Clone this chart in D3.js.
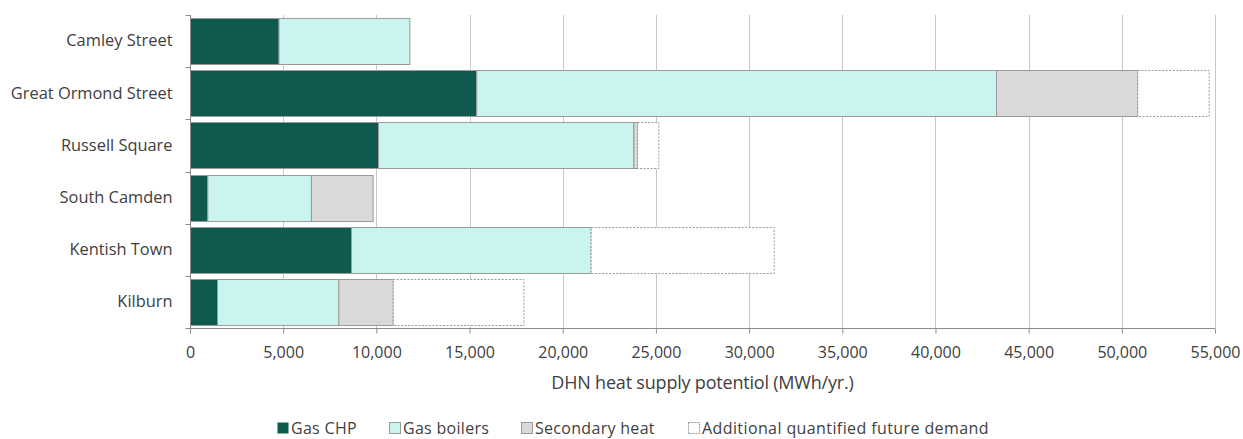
<!DOCTYPE html>
<html>
<head>
<meta charset="utf-8">
<script src="https://cdn.jsdelivr.net/npm/d3@7"></script>
<style>
  html, body { margin: 0; padding: 0; background: #fff; }
  svg text { font-family: "Open Sans", "Noto Sans", sans-serif; fill: #404040; }
</style>
</head>
<body>
<svg id="chart" width="1243" height="439"></svg>
<script>
const categories = ["Camley Street", "Great Ormond Street", "Russell Square", "South Camden", "Kentish Town", "Kilburn"];
const seriesNames = ["Gas CHP", "Gas boilers", "Secondary heat", "Additional quantified future demand"];
const gasCHP       = [4750, 15360, 10090,  930, 8640, 1450];
const gasBoilers   = [7020, 27890, 13700, 5560, 12860, 6510];
const secondary    = [   0,  7580,   200, 3310,     0, 2920];
const futureDemand = [   0,  3830,  1140,    0,  9820, 7010];
const xTicks = [0, 5000, 10000, 15000, 20000, 25000, 30000, 35000, 40000, 45000, 50000, 55000];
const axisTitle = "DHN heat supply potentiol (MWh/yr.)";

const colors = ["#0f5a4f", "#c9f4f0", "#d9d9d9", "#ffffff"];
const seriesData = [gasCHP, gasBoilers, secondary, futureDemand];

const svg = d3.select("#chart");
const mLeft = 190, mRight = 1215, mTop = 15, mBottom = 328;

const x = d3.scaleLinear().domain([0, 55000]).range([mLeft, mRight]);
const y = d3.scaleBand().domain(categories).range([mTop, mBottom]).paddingInner(0.12).paddingOuter(0.06);

// gridlines
svg.append("g").selectAll("line").data(xTicks.slice(1)).join("line")
  .attr("x1", d => Math.round(x(d)) + 0.5).attr("x2", d => Math.round(x(d)) + 0.5)
  .attr("y1", mTop).attr("y2", mBottom)
  .attr("stroke", "#c8c8c8").attr("stroke-width", 1);

// stack
const rows = categories.map((c, i) => {
  const o = { cat: c };
  seriesNames.forEach((s, j) => o[s] = seriesData[j][i]);
  return o;
});
const stack = d3.stack().keys(seriesNames)(rows);

const gBars = svg.append("g");
stack.forEach((layer, j) => {
  gBars.append("g").selectAll("rect").data(layer.filter(d => d[1] - d[0] > 0)).join("rect")
    .attr("x", d => x(d[0]) + 0.5)
    .attr("y", d => Math.round(y(d.data.cat)) + 0.5)
    .attr("width", d => x(d[1]) - x(d[0]))
    .attr("height", Math.round(y.bandwidth()))
    .attr("fill", colors[j])
    .attr("stroke", "#9a9a9a")
    .attr("stroke-width", 1)
    .attr("stroke-dasharray", j === 3 ? "2,1.5" : null);
});

// x axis
const xAxis = d3.axisBottom(x).tickValues(xTicks).tickSize(5).tickPadding(13)
  .tickFormat(d3.format(","));
const gx = svg.append("g").attr("transform", `translate(0,${mBottom + 0.5})`).call(xAxis);
gx.select(".domain").attr("stroke", "#8c8c8c").attr("d", `M${mLeft},0H${mRight}`);
gx.selectAll(".tick line").attr("stroke", "#8c8c8c");
gx.selectAll(".tick text").style("font-size", "16px").attr("fill", "#404040")
  .style("font-family", '"Open Sans", sans-serif');

// y axis
const yAxis = d3.axisLeft(y).tickSize(0).tickPadding(18);
const gy = svg.append("g").attr("transform", `translate(${mLeft + 0.5},0)`).call(yAxis);
gy.select(".domain").attr("stroke", "#8c8c8c").attr("d", `M0,${mTop}V${mBottom}`);
gy.selectAll(".tick text").style("font-size", "16.4px").attr("fill", "#404040")
  .style("font-family", '"Open Sans", sans-serif');
// boundary ticks on y axis
const bounds = categories.map(c => y(c) - y.step() * y.paddingInner() / 2).concat([mBottom]);
bounds[0] = mTop;
gy.append("g").selectAll("line").data(bounds).join("line")
  .attr("x1", -5).attr("x2", 0)
  .attr("y1", d => Math.round(d) + 0.5).attr("y2", d => Math.round(d) + 0.5)
  .attr("stroke", "#8c8c8c");

// axis title
svg.append("text").attr("x", (mLeft + mRight) / 2).attr("y", 389)
  .attr("text-anchor", "middle").style("font-size", "18px").style("letter-spacing", "-0.2px").text(axisTitle);

// legend (layout: swatch x positions)
const legend = svg.append("g");
const swatchX = [277, 389, 521, 688];
seriesNames.forEach((s, j) => {
  const g = legend.append("g");
  g.append("rect").attr("x", swatchX[j] + 0.5).attr("y", 422.5).attr("width", 11).attr("height", 11)
    .attr("fill", colors[j]).attr("stroke", j === 0 ? "none" : "#9a9a9a")
    .attr("stroke-dasharray", j === 3 ? "2,1" : null);
  g.append("text").attr("x", swatchX[j] + 14).attr("y", 434).style("font-size", "16px")
    .style("letter-spacing", j === 3 ? "0.4px" : "0.3px").text(s);
});
</script>
</body>
</html>
